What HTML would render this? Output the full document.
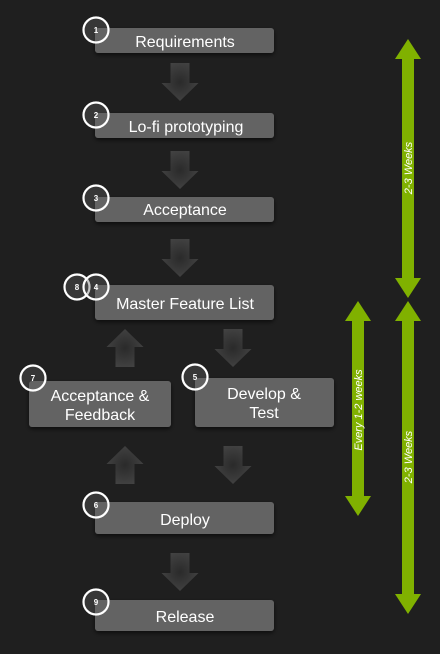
<!DOCTYPE html>
<html><head><meta charset="utf-8"><style>
html,body{margin:0;padding:0;background:#1f1f1f;}
svg{display:block;font-family:"Liberation Sans",sans-serif;}
</style></head><body>
<svg width="440" height="654" viewBox="0 0 440 654">
<defs>
<radialGradient id="ag" cx="50%" cy="50%" r="60%"><stop offset="0" stop-color="#2a2a2a"/><stop offset="1" stop-color="#454545"/></radialGradient>
<filter id="sh"><feDropShadow dx="0" dy="2" stdDeviation="2" flood-color="#000" flood-opacity="0.6"/></filter>
<g id="dn"><path d="M-9.5,0 H9.5 V20 H18.5 L0,38 L-18.5,20 H-9.5 Z" fill="url(#ag)"/></g>
<g id="up"><path d="M-9.5,38 H9.5 V18 H18.5 L0,0 L-18.5,18 H-9.5 Z" fill="url(#ag)"/></g>
</defs>
<rect width="440" height="654" fill="#1f1f1f"/>
<use href="#dn" x="180" y="63"/>
<use href="#dn" x="180" y="151"/>
<use href="#dn" x="180" y="239"/>
<use href="#dn" x="233" y="329"/>
<use href="#dn" x="233" y="446"/>
<use href="#up" x="125" y="329"/>
<use href="#up" x="125" y="446"/>
<use href="#dn" x="180" y="553"/>
<g fill="#646464" filter="url(#sh)">
<rect x="95" y="28" width="179" height="25" rx="3"/>
<rect x="95" y="113" width="179" height="25" rx="3"/>
<rect x="95" y="197" width="179" height="25" rx="3"/>
<rect x="95" y="285" width="179" height="35" rx="3"/>
<rect x="29" y="381" width="142" height="46" rx="3"/>
<rect x="195" y="378" width="139" height="49" rx="3"/>
<rect x="95" y="502" width="179" height="32" rx="3"/>
<rect x="95" y="600" width="179" height="31" rx="3"/>
</g>
<g fill="#fff" font-size="16" text-anchor="middle">
<text x="185" y="47">Requirements</text>
<text x="186" y="132">Lo-fi prototyping</text>
<text x="185" y="215">Acceptance</text>
<text x="185" y="309">Master Feature List</text>
<text x="100" y="401">Acceptance &amp;</text>
<text x="100" y="420">Feedback</text>
<text x="264" y="399">Develop &amp;</text>
<text x="264" y="418">Test</text>
<text x="185" y="525">Deploy</text>
<text x="185" y="622">Release</text>
</g>
<g fill="rgba(100,100,100,0.35)" stroke="#fff" stroke-width="2.2">
<circle cx="96" cy="30" r="12.5"/>
<circle cx="96" cy="115" r="12.5"/>
<circle cx="96" cy="198" r="12.5"/>
<circle cx="77" cy="287" r="12.5"/>
<circle cx="96" cy="287" r="12.5"/>
<circle cx="33" cy="378" r="12.5"/>
<circle cx="195" cy="377" r="12.5"/>
<circle cx="96" cy="505" r="12.5"/>
<circle cx="96" cy="602" r="12.5"/>
</g>
<g fill="#fff" font-size="8" font-weight="bold" text-anchor="middle">
<text x="96" y="33">1</text><text x="96" y="118">2</text><text x="96" y="201">3</text>
<text x="77" y="290">8</text><text x="96" y="290">4</text><text x="33" y="381">7</text>
<text x="195" y="380">5</text><text x="96" y="508">6</text><text x="96" y="605">9</text>
</g>
<g fill="#80b100">
<path d="M408,39 L421,59 H414 V278 H421 L408,298 L395,278 H402 V59 H395 Z"/>
<path d="M408,301 L421,321 H414 V594 H421 L408,614 L395,594 H402 V321 H395 Z"/>
<path d="M358,301 L371,321 H364 V496 H371 L358,516 L345,496 H352 V321 H345 Z"/>
</g>
<g fill="#fff" font-size="11" font-style="italic" text-anchor="middle">
<text transform="translate(412,168) rotate(-90)">2-3 Weeks</text>
<text transform="translate(412,457) rotate(-90)">2-3 Weeks</text>
<text transform="translate(362,410) rotate(-90)">Every 1-2 weeks</text>
</g>
</svg>
</body></html>
